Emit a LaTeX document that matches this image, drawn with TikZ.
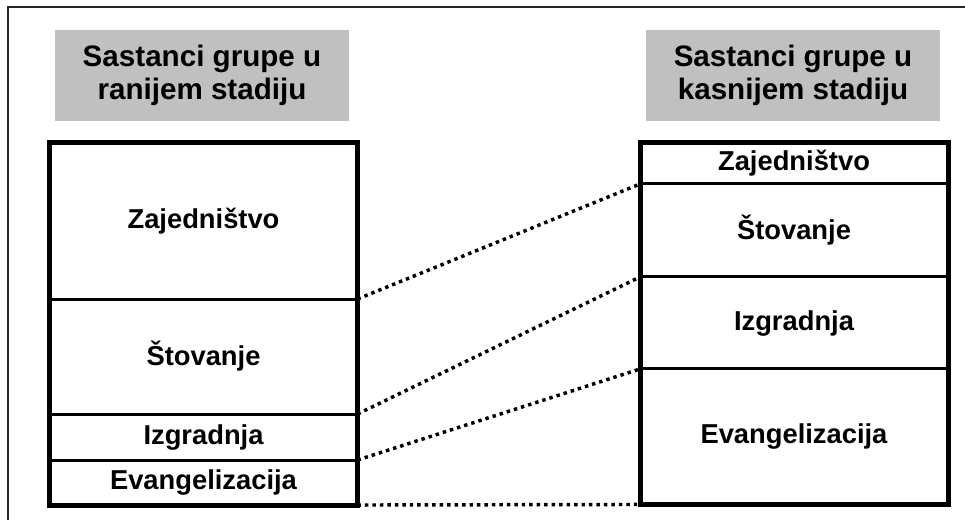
\documentclass[tikz,border=0pt]{standalone}
\usepackage{fontspec}
\setmainfont{Liberation Sans}
\usetikzlibrary{positioning}
\definecolor{titlegray}{RGB}{192,192,192}
\tikzset{
  title/.style={fill=titlegray, minimum width=220.5pt, minimum height=68.25pt,
    align=center, font=\fontsize{22.2}{25}\selectfont\bfseries},
  part/.style={draw, line width=2.25pt, fill=white, outer sep=0pt, inner sep=0pt,
    minimum width=231pt, font=\fontsize{20.5}{24}\selectfont\bfseries},
  frame/.style={line width=3.75pt},
  link/.style={line width=2.6pt, dash pattern=on 2.6pt off 3pt},
}

\begin{document}
\begin{tikzpicture}[x=0.75pt, y=-0.75pt]
  \useasboundingbox (0,0) rectangle (965,520);
  %\draw[lightgray] (0,0) grid (965,520);
  \draw[line width=1.5pt, black!85] (965,7) -- (8,7) -- (8,520);

  \node[title] (early) at (202,75.5) {Sastanci grupe u\\ranijem stadiju};
  \node[title] (late) at (793,75.5) {Sastanci grupe u\\kasnijem stadiju};

  % early stage
  \node[part, anchor=north west, minimum height=117.4pt] (lzaj) at (49.5,142.5) {Zajedništvo};
  \node[part, below=0pt of lzaj, minimum height=86.25pt] (lsto) {Štovanje};
  \node[part, below=0pt of lsto, minimum height=34.5pt] (lizg) {Izgradnja};
  \node[part, below=0pt of lizg, minimum height=33.75pt] (levan) {Evangelizacija};

  % late stage
  \node[part, anchor=north west, minimum height=30.75pt] (rzaj) at (640,143) {Zajedništvo};
  \node[part, below=0pt of rzaj, minimum height=69.75pt] (rsto) {Štovanje};
  \node[part, below=0pt of rsto, minimum height=69pt] (rizg) {Izgradnja};
  \node[part, below=0pt of rizg, minimum height=101.6pt] (revan) {Evangelizacija};

  \draw[link] (lzaj.south east) -- (rzaj.south west);
  \draw[link] (lsto.south east) -- (rsto.south west);
  \draw[link] (lizg.south east) -- (rizg.south west);
  \draw[link] (levan.south east) -- (revan.south west);

  \draw[frame] (lzaj.north west) rectangle (levan.south east);
  \draw[frame] (rzaj.north west) rectangle (revan.south east);
\end{tikzpicture}
\end{document}
